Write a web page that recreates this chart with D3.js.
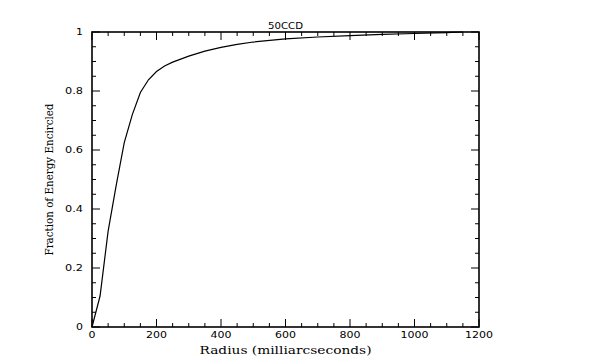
<!DOCTYPE html>
<html><head><meta charset="utf-8">
<script src="https://cdn.jsdelivr.net/npm/d3@7"></script>
<style>body{margin:0;background:#fff}svg{display:block}</style>
</head><body>
<svg id="c" width="600" height="359"></svg>
<script>
const title = "50CCD";
const xLabel = "Radius (milliarcseconds)";
const yLabel = "Fraction of Energy Encircled";
const radius = [0,25,50,75,100,125,150,175,200,225,250,300,350,400,450,500,600,700,800,900,1000,1100,1150];
const fraction = [0,0.105,0.325,0.48,0.625,0.72,0.795,0.838,0.866,0.885,0.898,0.918,0.935,0.948,0.958,0.966,0.977,0.983,0.988,0.992,0.995,0.998,1.0];
const xTicks = [0,200,400,600,800,1000,1200];
const yTicks = [0,0.2,0.4,0.6,0.8,1];
const xTickLabels = ["0","200","400","600","800","1000","1200"];
const yTickLabels = ["0","0.2","0.4","0.6","0.8","1"];

const L=92,R=479,T=32,B=327;
const svg=d3.select("#c");
const x=d3.scaleLinear().domain([0,1200]).range([L,R]);
const y=d3.scaleLinear().domain([0,1]).range([B,T]);

const xMinor=d3.range(0,1201,50), yMinor=d3.range(0,1.0001,0.05);
const g=svg.append("g");
xMinor.forEach(v=>{
  const maj = v%200===0; const l=maj?8:4;
  g.append("line").attr("x1",x(v)).attr("x2",x(v)).attr("y1",B).attr("y2",B-l).attr("stroke","#000").attr("stroke-width",1);
  g.append("line").attr("x1",x(v)).attr("x2",x(v)).attr("y1",T).attr("y2",T+l).attr("stroke","#000").attr("stroke-width",1);
});
yMinor.forEach(v=>{
  const maj = Math.abs(Math.round(v*5)-v*5)<1e-6; const l=maj?8:4;
  g.append("line").attr("y1",y(v)).attr("y2",y(v)).attr("x1",L).attr("x2",L+l).attr("stroke","#000").attr("stroke-width",1);
  g.append("line").attr("y1",y(v)).attr("y2",y(v)).attr("x1",R).attr("x2",R-l).attr("stroke","#000").attr("stroke-width",1);
});
g.append("rect").attr("x",L).attr("y",T).attr("width",R-L).attr("height",B-T).attr("fill","none").attr("stroke","#000").attr("stroke-width",1.6);

const fnt="DejaVu Sans";
xTicks.forEach((v,i)=>{
  const s=xTickLabels[i];
  svg.append("text").attr("x",x(v)).attr("y",338).attr("text-anchor","middle")
    .attr("font-family",fnt).attr("font-size",9).attr("textLength",s.length*7).attr("lengthAdjust","spacingAndGlyphs").text(s);
});
yTicks.forEach((v,i)=>{
  const s=yTickLabels[i];
  const w = s.replace(".","").length*7 + (s.includes(".")?4:0);
  svg.append("text").attr("x",83-w).attr("y",y(v)+3).attr("text-anchor","start")
    .attr("font-family",fnt).attr("font-size",9).attr("textLength",w).attr("lengthAdjust","spacingAndGlyphs").text(s);
});

svg.append("text").attr("x",(L+R)/2).attr("y",29).attr("text-anchor","middle")
  .attr("font-family",fnt).attr("font-size",9).attr("textLength",35).attr("lengthAdjust","spacingAndGlyphs").text(title);
svg.append("text").attr("x",(L+R)/2).attr("y",354).attr("text-anchor","middle")
  .attr("font-family","DejaVu Serif").attr("font-size",11).attr("textLength",172).attr("lengthAdjust","spacingAndGlyphs").text(xLabel);
svg.append("text").attr("transform",`translate(53,${(T+B)/2}) rotate(-90)`).attr("text-anchor","middle")
  .attr("font-family","DejaVu Serif").attr("font-size",10.5).attr("textLength",152).attr("lengthAdjust","spacingAndGlyphs").text(yLabel);

const line=d3.line().x((d,i)=>x(radius[i])).y(d=>y(d));
svg.append("path").attr("d",line(fraction)).attr("fill","none").attr("stroke","#000").attr("stroke-width",1.2);
</script>
</body></html>
